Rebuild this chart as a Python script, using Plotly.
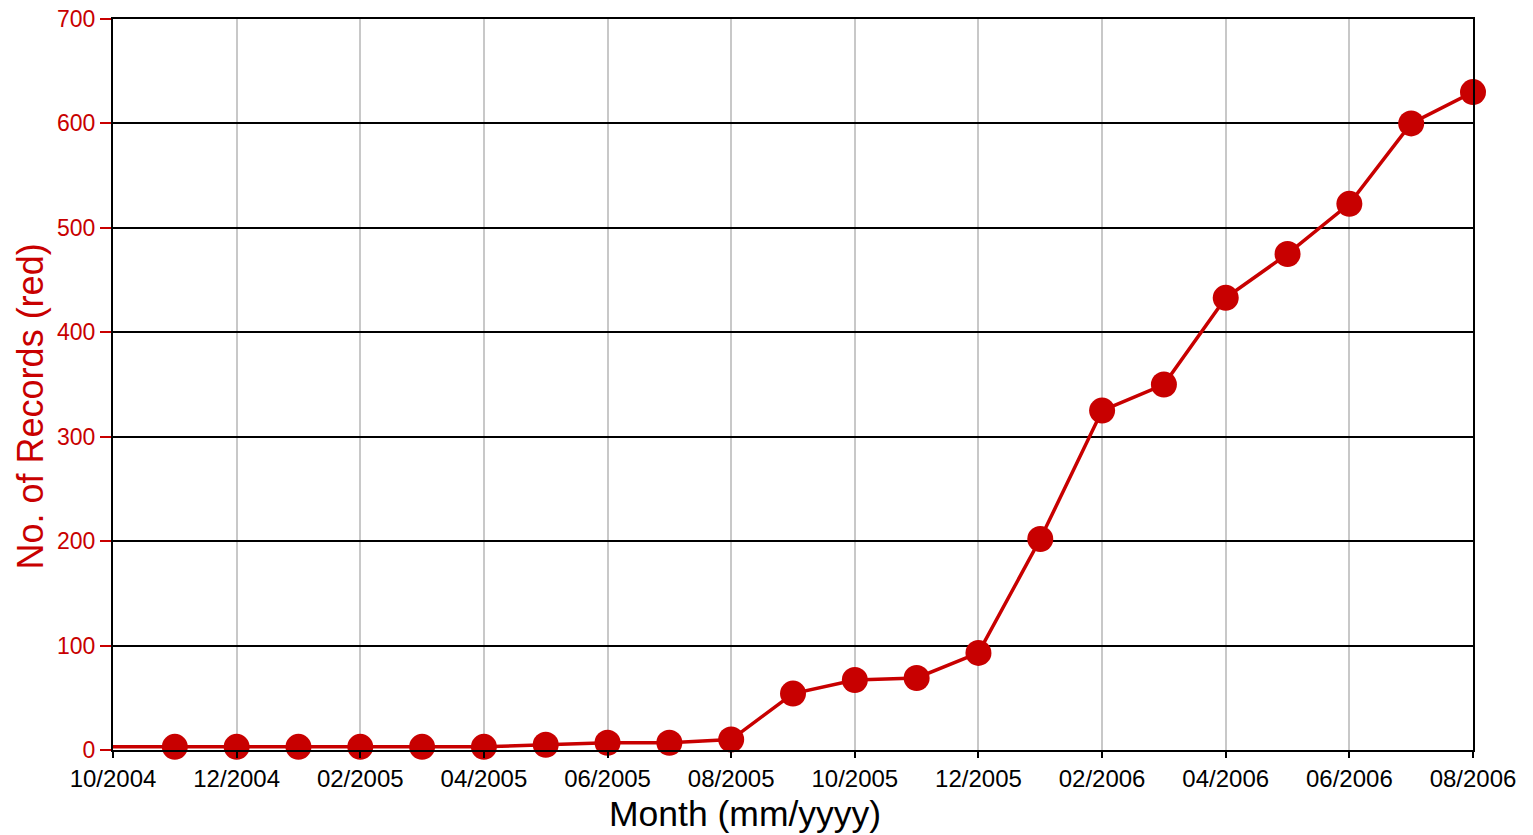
import plotly.graph_objects as go

months = ["10/2004", "11/2004", "12/2004", "01/2005", "02/2005", "03/2005", "04/2005",
          "05/2005", "06/2005", "07/2005", "08/2005", "09/2005", "10/2005", "11/2005",
          "12/2005", "01/2006", "02/2006", "03/2006", "04/2006", "05/2006", "06/2006",
          "07/2006", "08/2006"]
records = [3, 3, 3, 3, 3, 3, 3, 5, 7, 7, 10, 54, 67, 69, 93, 202, 325, 350, 433, 475, 523, 600, 630]
tick_labels = months[::2]
x_title = "Month (mm/yyyy)"
y_title = "No. of Records (red)"

x_idx = list(range(len(months)))
RED = "#c80000"

fig = go.Figure()
fig.add_trace(go.Scatter(x=x_idx, y=records, mode="lines",
                         line=dict(color=RED, width=3.5), cliponaxis=False,
                         showlegend=False, hoverinfo="skip"))
fig.add_trace(go.Scatter(x=x_idx[1:], y=records[1:], mode="markers",
                         marker=dict(color=RED, size=26, line=dict(width=0)),
                         cliponaxis=False, showlegend=False,
                         text=months[1:], hovertemplate="%{text}: %{y}<extra></extra>"))

fig.update_layout(
    width=1533, height=835,
    margin=dict(l=113, r=60, t=19, b=85, autoexpand=False),
    paper_bgcolor="white", plot_bgcolor="white",
    font=dict(family="Liberation Sans, Arial, sans-serif", size=24, color="black"),
    xaxis=dict(
        range=[0, len(months) - 1],
        tickvals=x_idx[::2], ticktext=tick_labels,
        showgrid=True, gridcolor="#c8c8c8", gridwidth=1.5,
        showline=True, linecolor="black", linewidth=2, mirror=True,
        ticks="outside", ticklen=6, tickcolor="black", tickwidth=2,
        tickfont=dict(size=24, color="black"),
        ticklabeloverflow="allow",
        zeroline=False, automargin=False,
    ),
    yaxis=dict(
        range=[0, 700], dtick=100,
        showgrid=True, gridcolor="black", gridwidth=1.5,
        showline=True, linecolor="black", linewidth=2, mirror=True,
        ticks="outside", ticklen=11, tickcolor=RED, tickwidth=2,
        tickfont=dict(size=23, color=RED),
        ticklabeloverflow="allow",
        zeroline=False, automargin=False,
    ),
    annotations=[
        dict(text=x_title, xref="paper", yref="paper", x=0.4645, y=-0.087,
             xanchor="center", yanchor="middle", showarrow=False,
             font=dict(size=35.5, color="black")),
        dict(text=y_title, xref="paper", yref="paper", x=-0.061, y=0.470,
             xanchor="center", yanchor="middle", showarrow=False, textangle=-90,
             font=dict(size=36, color=RED)),
    ],
)

fig.write_html("out.html", config={"displayModeBar": False},
               post_script="document.body.style.margin='0';")
